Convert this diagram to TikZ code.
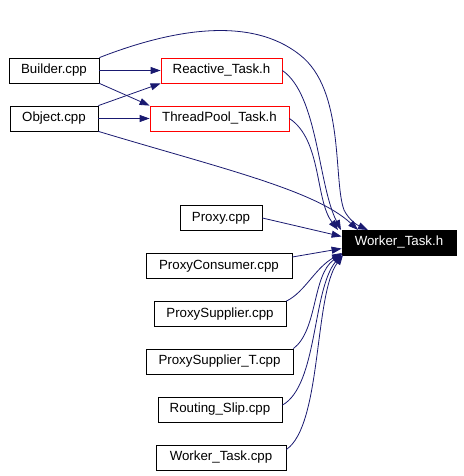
\documentclass[tikz,border=0pt]{standalone}
\usepackage{fontspec}
\setmainfont{Liberation Sans}
\usetikzlibrary{arrows.meta}
\definecolor{edgeblue}{HTML}{191970}
\begin{document}
\begin{tikzpicture}[x=1pt,y=-1pt,
		file/.style={draw=black,line width=0.8pt,minimum height=25pt,inner sep=0pt,font=\fontsize{13.3}{15}\selectfont},
		hdr/.style={file,draw=red},
		dep/.style={draw=edgeblue,line width=0.8pt,-{Triangle[length=10pt,width=7pt]}}]
	\useasboundingbox (0,0) rectangle (463,476);
	% files
	\node[file,minimum width=90pt] (bld) at (54,70.5) {Builder.cpp};
	\node[file,minimum width=88pt] (obj) at (54,118.5) {Object.cpp};
	\node[hdr,minimum width=121pt] (react) at (221.5,70.5) {Reactive\_Task.h};
	\node[hdr,minimum width=139pt] (tpool) at (219.5,118.5) {ThreadPool\_Task.h};
	\node[file,minimum width=114pt,fill=black,text=white] (wtask) at (399,242.5) {Worker\_Task.h};
	\node[file,minimum width=82pt] (proxy) at (221,218) {Proxy.cpp};
	\node[file,minimum width=146pt] (pcons) at (219,266) {ProxyConsumer.cpp};
	\node[file,minimum width=132pt] (psup) at (220,314) {ProxySupplier.cpp};
	\node[file,minimum width=147pt] (psupt) at (219.5,361.5) {ProxySupplier\_T.cpp};
	\node[file,minimum width=124pt] (rslip) at (220,409.5) {Routing\_Slip.cpp};
	\node[file,minimum width=130pt] (wtcpp) at (221,457.5) {Worker\_Task.cpp};
	% includes
	\draw[dep] (bld) -- (react);
	\draw[dep] (bld.south east) -- (tpool.north west);
	\draw[dep] (obj.north east) -- (react.south west);
	\draw[dep] (obj) -- (tpool);
	\draw[dep] (bld.north east) .. controls (170,30) and (250,15) .. (300,55) .. controls (345,90) and (333,180) .. (344,210) .. controls (349,220) and (357,225) .. (368,230);
	\draw[dep] (obj.south east) .. controls (220,168) and (315,190) .. (358,230);
	\draw[dep] (react.east) .. controls (318,95) and (318,185) .. (341,230);
	\draw[dep] (tpool.east) .. controls (322,140) and (315,200) .. (338,230);
	\draw[dep] (proxy.east) -- (wtask.174);
	\draw[dep] (pcons.7) -- (wtask.186);
	\draw[dep] (psup.north east) .. controls (305,292) and (315,268) .. (342,253);
	\draw[dep] (psupt.north east) .. controls (318,330) and (312,275) .. (342,254);
	\draw[dep] (rslip.4) .. controls (318,385) and (312,290) .. (342,254);
	\draw[dep] (wtcpp.7) .. controls (322,425) and (314,295) .. (343,255);
\end{tikzpicture}
\end{document}
